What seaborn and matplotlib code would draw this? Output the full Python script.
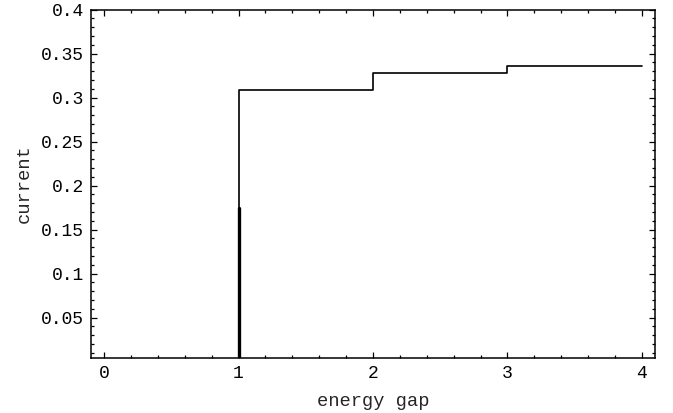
import matplotlib
matplotlib.use("Agg")
import matplotlib.pyplot as plt
import seaborn as sns
import pandas as pd
from matplotlib.ticker import MultipleLocator, FixedLocator

# Data
gap = [0, 1, 2, 3, 4]
current = [0.0, 0.308, 0.328, 0.336, 0.336]
spike_gap = [1, 1]
spike_current = [0.0, 0.175]
x_ticks = [0, 1, 2, 3, 4]
x_tick_labels = ["0", "1", "2", "3", "4"]
y_ticks = [0.05, 0.1, 0.15, 0.2, 0.25, 0.3, 0.35, 0.4]
y_tick_labels = ["0.05", "0.1", "0.15", "0.2", "0.25", "0.3", "0.35", "0.4"]

sns.set_style("white")
plt.rcParams["font.family"] = ["Liberation Mono", "DejaVu Sans Mono"]

fig = plt.figure(figsize=(6.73, 4.13), dpi=100)
ax = fig.add_axes([91 / 673, 1 - 358 / 413, (655 - 91) / 673, (358 - 9.5) / 413])

df = pd.DataFrame({"gap": gap, "current": current})
sdf = pd.DataFrame({"gap": spike_gap, "current": spike_current})
sns.lineplot(data=df, x="gap", y="current", ax=ax, color="black", lw=1.2,
             drawstyle="steps-post", estimator=None, sort=False)
sns.lineplot(data=sdf, x="gap", y="current", ax=ax, color="black", lw=2.4,
             estimator=None, sort=False)

ax.set_xlim(-0.097, 4.097)
ax.set_ylim(0.004, 0.4)
ax.xaxis.set_major_locator(FixedLocator(x_ticks))
ax.set_xticklabels(x_tick_labels)
ax.yaxis.set_major_locator(FixedLocator(y_ticks))
ax.set_yticklabels(y_tick_labels)
ax.xaxis.set_minor_locator(MultipleLocator(0.2))
ax.yaxis.set_minor_locator(MultipleLocator(0.01))
ax.tick_params(which="both", direction="in", top=True, right=True,
               bottom=True, left=True, colors="black", labelsize=13, width=0.9)
ax.tick_params(which="major", length=4.5, pad=5)
ax.tick_params(which="minor", length=2.2)
for s in ax.spines.values():
    s.set_color("black")
    s.set_linewidth(1.1)

ax.set_xlabel("energy gap", fontsize=13.5, labelpad=8)
ax.set_ylabel("current", fontsize=13.5, labelpad=6)

fig.savefig("out.png", dpi=100)
